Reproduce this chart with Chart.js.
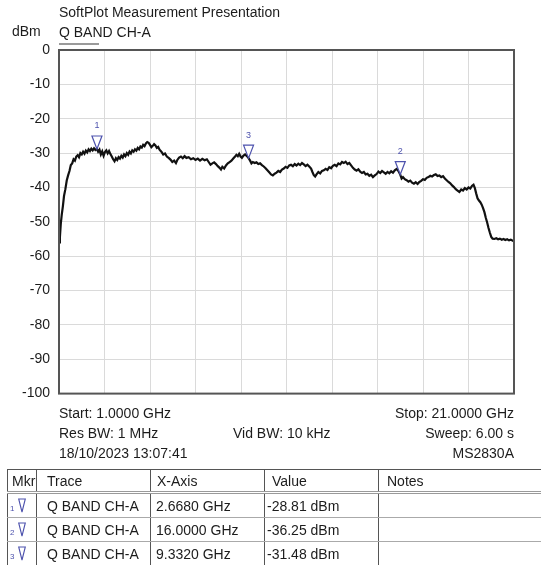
<!DOCTYPE html>
<html>
<head>
<meta charset="utf-8">
<script src="https://cdn.jsdelivr.net/npm/chart.js@4.4.1/dist/chart.umd.min.js"></script>
<style>
  body { margin: 0; background: #fff; font-family: Arial, "Liberation Sans", sans-serif; color: #1c1c1c; }
  #wrap { position: relative; width: 541px; height: 565px; overflow: hidden; }
  #plot { position: absolute; left: 0; top: 0; }
  .t { position: absolute; font-size: 14px; line-height: 16px; white-space: nowrap; }
  .r { text-align: right; }
  #legendLine { position: absolute; left: 59px; top: 43px; width: 40px; height: 2px; background: #9a9a9a; }
  table { position: absolute; left: 7px; top: 469px; width: 571px; border-collapse: collapse; table-layout: fixed; font-size: 14px; }
  td { border: 1px solid #555; padding: 0; white-space: nowrap; overflow: hidden; }
  tr.head td { height: 21px; border-bottom: 3px double #9a9a9a; }
  tr.row td { height: 23px; border-top: 1px solid #aaa; border-bottom: 1px solid #aaa; }
  .mk { color: #4d52ad; font-size: 8px; padding-left: 2px; }
  .mk svg { vertical-align: -2px; margin-left: 4px; }
</style>
</head>
<body>
<div id="wrap">
  <canvas id="plot" width="541" height="411"></canvas>
  <div class="t" style="left:59px; top:4px;">SoftPlot Measurement Presentation</div>
  <div class="t" style="left:12px; top:23px;">dBm</div>
  <div class="t" style="left:59px; top:24px;">Q BAND CH-A</div>
  <div id="legendLine"></div>

  <div class="t" style="left:59px; top:405px;">Start: 1.0000 GHz</div>
  <div class="t" style="left:59px; top:425px;">Res BW: 1 MHz</div>
  <div class="t" style="left:59px; top:445px;">18/10/2023 13:07:41</div>
  <div class="t" style="left:233px; top:425px;">Vid BW: 10 kHz</div>
  <div class="t r" style="right:27px; top:405px;">Stop: 21.0000 GHz</div>
  <div class="t r" style="right:27px; top:425px;">Sweep: 6.00 s</div>
  <div class="t r" style="right:27px; top:445px;">MS2830A</div>

  <table id="mkrTable">
    <colgroup><col style="width:29px"><col style="width:114px"><col style="width:114px"><col style="width:114px"><col style="width:200px"></colgroup>
    <tbody></tbody>
  </table>
</div>
<script>
// trace: Q BAND CH-A, frequency in GHz and level in dBm
const traceFreqGHz = [
  1.00, 1.04, 1.08, 1.12, 1.17, 1.22, 1.28, 1.34, 1.40, 1.46, 1.52, 1.58, 1.64, 1.70, 1.76, 1.82, 1.88, 1.94,
  2.00, 2.06, 2.12, 2.18, 2.24, 2.30, 2.36, 2.42, 2.48, 2.54, 2.60, 2.668, 2.72, 2.78, 2.84, 2.90, 2.96,
  3.02, 3.08, 3.14, 3.20, 3.26, 3.32, 3.38, 3.44, 3.50, 3.56, 3.62, 3.68, 3.74, 3.80, 3.86, 3.92, 3.98,
  4.04, 4.10, 4.16, 4.22, 4.28, 4.34, 4.40, 4.46, 4.52, 4.58, 4.64, 4.70, 4.76, 4.82, 4.88, 4.94,
  5.00, 5.06, 5.12, 5.18, 5.24, 5.30, 5.36, 5.42, 5.50, 5.58, 5.66, 5.74, 5.82, 5.90, 5.98,
  6.06, 6.14, 6.20, 6.28, 6.36, 6.44, 6.52, 6.60, 6.70, 6.80, 6.90, 7.00, 7.10, 7.20, 7.30, 7.40, 7.50,
  7.58, 7.66, 7.74, 7.82, 7.90, 7.98, 8.06, 8.12, 8.18, 8.26, 8.34, 8.42, 8.50, 8.58, 8.66, 8.74, 8.80,
  8.86, 8.92, 8.98, 9.04, 9.10, 9.18, 9.26, 9.332, 9.40, 9.46, 9.52, 9.60, 9.68, 9.76, 9.84, 9.92,
  10.00, 10.08, 10.16, 10.24, 10.32, 10.40, 10.48, 10.56, 10.64, 10.72, 10.80, 10.88, 10.96,
  11.04, 11.12, 11.20, 11.28, 11.36, 11.44, 11.52, 11.60, 11.68, 11.76, 11.84, 11.92,
  12.00, 12.08, 12.14, 12.20, 12.26, 12.32, 12.40, 12.48, 12.56, 12.64, 12.72, 12.80, 12.88, 12.96,
  13.04, 13.12, 13.20, 13.28, 13.36, 13.44, 13.52, 13.60, 13.68, 13.76, 13.84, 13.92,
  14.00, 14.08, 14.16, 14.24, 14.32, 14.40, 14.48, 14.56, 14.64, 14.72, 14.80, 14.88, 14.96,
  15.04, 15.12, 15.20, 15.28, 15.36, 15.44, 15.52, 15.60, 15.68, 15.76, 15.84, 15.92,
  16.00, 16.06, 16.12, 16.20, 16.28, 16.36, 16.44, 16.52, 16.60, 16.68, 16.76, 16.84, 16.92,
  17.00, 17.08, 17.16, 17.24, 17.32, 17.40, 17.48, 17.56, 17.64, 17.72, 17.80, 17.88, 17.96,
  18.04, 18.12, 18.20, 18.28, 18.36, 18.44, 18.52, 18.60, 18.68, 18.76, 18.84, 18.92,
  19.00, 19.08, 19.16, 19.22, 19.28, 19.34, 19.40, 19.46, 19.52, 19.58, 19.64, 19.70, 19.76, 19.82, 19.88, 19.94,
  20.00, 20.06, 20.14, 20.22, 20.30, 20.38, 20.46, 20.54, 20.62, 20.70, 20.78, 20.86, 20.94, 21.00
];
const traceDbm = [
  -56.0, -54.5, -50.5, -48.0, -45.5, -42.5, -40.5, -38.0, -36.5, -35.2, -33.5, -33.0, -31.8, -32.2, -31.0, -30.6, -31.2, -30.0,
  -30.4, -29.6, -30.2, -29.3, -29.8, -28.9, -29.4, -28.7, -29.2, -28.6, -29.1, -28.81, -29.6, -29.0, -30.4, -29.5, -30.8,
  -29.7, -29.2, -30.1, -29.4, -30.3, -31.0, -31.8, -32.4, -31.5, -32.0, -31.2, -31.6, -30.8, -31.3, -30.4, -30.9, -30.0,
  -30.5, -29.6, -30.1, -29.2, -29.6, -28.9, -29.3, -28.5, -28.9, -28.1, -28.4, -27.6, -28.0, -27.2, -26.8, -27.0,
  -27.6, -28.3, -27.9, -27.4, -27.8, -28.5, -28.2, -29.0, -29.6, -30.4, -30.1, -31.0, -31.4, -31.9, -32.6,
  -32.2, -32.9, -32.0, -31.3, -31.0, -31.5, -30.9, -31.4, -31.2, -31.8, -31.5, -32.0, -31.6, -32.2, -31.7, -32.1, -31.8,
  -32.6, -33.4, -33.0, -32.7, -33.2, -33.8, -34.3, -34.8, -34.0, -34.5, -33.6, -33.0, -32.6, -32.2, -31.6, -31.0, -30.5,
  -30.9, -30.2, -31.0, -31.4, -30.8, -30.4, -30.9, -31.48, -32.2, -33.0, -32.6, -32.9, -32.7, -33.2, -33.0, -33.5,
  -33.9, -34.4, -35.0, -35.6, -36.2, -36.5, -36.0, -35.7, -35.2, -35.5, -34.8, -34.5, -34.0,
  -34.3, -33.6, -33.4, -33.8, -33.2, -33.6, -33.1, -33.5, -32.9, -33.3, -33.8, -33.4,
  -33.9, -34.5, -35.5, -36.4, -36.8, -36.2, -35.5, -35.9, -35.2, -35.0, -34.6, -34.9, -34.1, -34.4,
  -33.7, -33.4, -33.8, -33.0, -33.3, -32.6, -32.9, -32.5, -33.2, -32.9, -33.6, -34.3,
  -34.8, -35.1, -34.7, -35.4, -35.8, -35.5, -36.2, -36.0, -36.6, -36.3, -37.0, -36.5, -36.1,
  -35.4, -35.8, -35.2, -35.6, -36.0, -35.5, -35.9, -35.3, -35.7, -35.0, -34.6, -35.2,
  -36.25, -37.4, -37.0, -37.6, -37.9, -38.3, -38.0, -38.6, -38.9, -38.5, -39.0, -38.4, -38.1,
  -37.6, -37.8, -37.2, -37.0, -36.6, -36.8, -36.4, -36.2, -36.7, -36.5, -37.0, -36.7, -37.4,
  -37.9, -38.4, -38.8, -39.4, -39.9, -40.5, -40.9, -41.3, -40.6, -40.9, -40.2, -40.6,
  -40.0, -40.3, -39.5, -39.2, -40.2, -41.8, -43.2, -43.8, -44.3, -45.0, -46.0, -47.2, -48.8, -50.2, -51.8, -53.2,
  -54.4, -54.9, -55.0, -54.8, -55.1, -54.9, -55.2, -55.0, -55.3, -55.1, -55.4, -55.2, -55.5, -55.6
];

// markers (number, frequency, level)
const markerNums = ['1', '2', '3'];
const markerFreqGHz = [2.668, 16.0, 9.332];
const markerDbm = [-28.81, -36.25, -31.48];
const markerTrace = ['Q BAND CH-A', 'Q BAND CH-A', 'Q BAND CH-A'];
const markerXText = ['2.6680 GHz', '16.0000 GHz', '9.3320 GHz'];
const markerValText = ['-28.81 dBm', '-36.25 dBm', '-31.48 dBm'];

const frameAndMarkers = {
    id: 'frameAndMarkers',
    afterDatasetsDraw(chart) {
        const ctx = chart.ctx;
        const a = chart.chartArea;
        const xs = chart.scales.x, ys = chart.scales.y;
        ctx.save();
        ctx.strokeStyle = '#555';
        ctx.lineWidth = 2;
        ctx.strokeRect(a.left, a.top, a.right - a.left, a.bottom - a.top);

        ctx.strokeStyle = '#4d52ad';
        ctx.lineWidth = 1.2;
        ctx.font = '9px Arial, "Liberation Sans", sans-serif';
        ctx.textAlign = 'center';
        ctx.textBaseline = 'middle';
        markerFreqGHz.forEach((f, i) => {
            const px = xs.getPixelForValue(f);
            const py = ys.getPixelForValue(markerDbm[i]);
            ctx.beginPath();
            ctx.moveTo(px - 5, py - 13);
            ctx.lineTo(px + 5, py - 13);
            ctx.lineTo(px, py);
            ctx.closePath();
            ctx.fillStyle = 'rgba(255,255,255,0.85)';
            ctx.fill();
            ctx.stroke();
            ctx.fillStyle = '#4d52ad';
            ctx.fillText(markerNums[i], px, py - 23);
        });
        ctx.restore();
    }
};

new Chart(document.getElementById('plot').getContext('2d'), {
    type: 'line',
    data: {
        datasets: [{
            label: 'Q BAND CH-A',
            data: traceFreqGHz.map((f, i) => ({ x: f, y: traceDbm[i] })),
            borderColor: '#111',
            borderWidth: 2.2,
            pointRadius: 0,
            tension: 0
        }]
    },
    options: {
        responsive: false,
        animation: false,
        devicePixelRatio: 1,
        layout: { padding: { left: 0, top: 50, right: 27, bottom: 0 } },
        plugins: { legend: { display: false }, tooltip: { enabled: false } },
        scales: {
            x: {
                type: 'linear',
                min: 1,
                max: 21,
                ticks: { stepSize: 2, display: false },
                grid: { color: '#dadada', lineWidth: 1, drawTicks: false },
                border: { display: false },
                afterFit(s) { s.height = 0; }
            },
            y: {
                min: -100,
                max: 0,
                ticks: {
                    stepSize: 10,
                    padding: 9,
                    color: '#1c1c1c',
                    font: { family: 'Arial, "Liberation Sans", sans-serif', size: 14 }
                },
                grid: { color: '#dadada', lineWidth: 1, drawTicks: false },
                border: { display: false },
                afterFit(s) { s.width = 59; }
            }
        }
    },
    plugins: [frameAndMarkers]
});

// marker table
function populateTable() {
    const tbody = document.querySelector('#mkrTable tbody');
    const head = document.createElement('tr');
    head.className = 'head';
    head.innerHTML = `
        <td style="padding-left:4px">Mkr</td>
        <td style="padding-left:10px">Trace</td>
        <td style="padding-left:6px">X-Axis</td>
        <td style="padding-left:7px">Value</td>
        <td style="padding-left:8px">Notes</td>`;
    tbody.appendChild(head);
    markerNums.forEach((n, i) => {
        const row = document.createElement('tr');
        row.className = 'row';
        row.innerHTML = `
            <td class="mk">${n}<svg width="8" height="15"><polygon points="0.7,1 7.3,1 4,14" fill="none" stroke="#4d52ad" stroke-width="1.1"/></svg></td>
            <td style="padding-left:10px">${markerTrace[i]}</td>
            <td style="padding-left:5px">${markerXText[i]}</td>
            <td style="padding-left:2px">${markerValText[i]}</td>
            <td></td>`;
        tbody.appendChild(row);
    });
}
populateTable();
</script>
</body>
</html>
